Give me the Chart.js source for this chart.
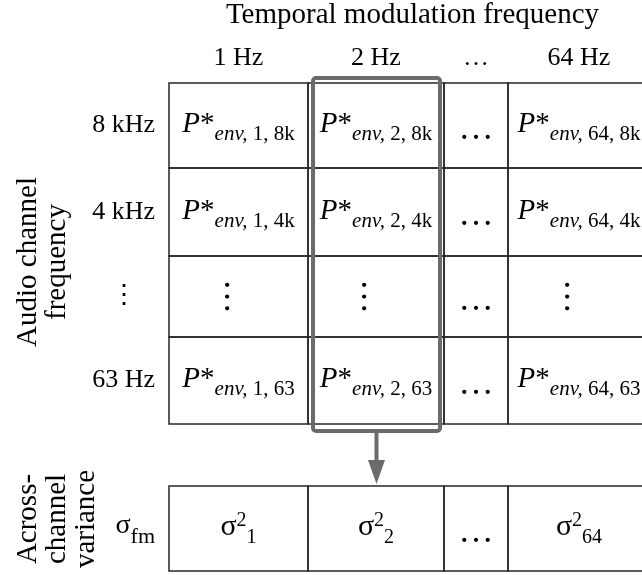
<!DOCTYPE html>
<html>
<head>
<meta charset="utf-8">
<script src="https://cdn.jsdelivr.net/npm/chart.js@4/dist/chart.umd.min.js"></script>
<style>
  html, body { margin: 0; padding: 0; background: #fff; }
  canvas { display: block; }
</style>
</head>
<body>
<canvas id="chart" width="642" height="575"></canvas>
<script>
// labels
const modFreqLabels = ['1 Hz', '2 Hz', '\u2026', '64 Hz'];
const modFreqIndex = ['1', '2', null, '64'];
const audioFreqLabels = ['8 kHz', '4 kHz', '\u22EE', '63 Hz'];
const audioFreqIndex = ['8k', '4k', null, '63'];
const highlightedCol = 1; // the 2 Hz column is boxed and summed up below

const xTitle = 'Temporal modulation frequency';
const yTitle = ['Audio channel', 'frequency'];
const varTitle = ['Across-', 'channel', 'variance'];

// layout, in pixel-like units on both scales
const colWidths = [139, 136, 64, 142];
const rowHeights = [85, 88, 81, 87];
const gapHeight = 62;
const varRowHeight = 85;
const xVisible = 473;

const SERIF = '"Liberation Serif", "Times New Roman", serif';
const LINE = '#262626';
const BOX = '#6b6b6b';

function colEdge(i) { return colWidths.slice(0, i).reduce((a, b) => a + b, 0); }
function rowEdge(i) { return rowHeights.slice(0, i).reduce((a, b) => a + b, 0); }
const gridBottom = rowEdge(rowHeights.length);
const varTop = gridBottom + gapHeight;
const varBottom = varTop + varRowHeight;

const gridCells = [];
audioFreqLabels.forEach((_, r) => {
    modFreqLabels.forEach((_, c) => {
        gridCells.push({ x: colEdge(c) + colWidths[c] / 2, y: rowEdge(r) + rowHeights[r] / 2, col: c, row: r });
    });
});
const varianceCells = modFreqLabels.map((_, c) => ({ x: colEdge(c) + colWidths[c] / 2, y: varTop + varRowHeight / 2, col: c }));

// draw a list of text runs centred on cx (or ending at cx)
function drawRuns(ctx, runs, cx, baseline, align) {
    let w = 0;
    runs.forEach(r => {
        ctx.font = r.font;
        r.w = ctx.measureText(r.text).width;
        w += r.w;
    });
    let x = align === 'right' ? cx - w : cx - w / 2;
    ctx.textAlign = 'left';
    ctx.textBaseline = 'alphabetic';
    runs.forEach(r => {
        ctx.font = r.font;
        ctx.fillText(r.text, x, baseline + (r.dy || 0));
        x += r.w;
    });
}

function hDots(ctx, cx, cy) {
    ctx.font = `35px ${SERIF}`;
    ctx.textAlign = 'center';
    ctx.textBaseline = 'alphabetic';
    ctx.fillText('\u2026', cx, cy + 13);
}

function vDots(ctx, cx, cy) {
    ctx.save();
    ctx.translate(cx - 12, cy);
    ctx.rotate(Math.PI / 2);
    ctx.font = `35px ${SERIF}`;
    ctx.textAlign = 'center';
    ctx.textBaseline = 'alphabetic';
    ctx.fillText('\u2026', 0, 2);
    ctx.restore();
}

function rotatedLines(ctx, lines, baseX, cy, gap) {
    ctx.font = `29px ${SERIF}`;
    ctx.textAlign = 'center';
    ctx.textBaseline = 'alphabetic';
    lines.forEach((line, i) => {
        ctx.save();
        ctx.translate(baseX + i * gap, cy);
        ctx.rotate(-Math.PI / 2);
        ctx.fillText(line, 0, 0);
        ctx.restore();
    });
}

const cellPlugin = {
    id: 'cellPlugin',
    afterDatasetsDraw(chart) {
        const { ctx, scales: { x, y } } = chart;
        ctx.save();
        ctx.fillStyle = '#000';
        ctx.strokeStyle = LINE;
        ctx.lineWidth = 1.5;

        chart.data.datasets.forEach((ds, di) => {
            const meta = chart.getDatasetMeta(di);
            meta.data.forEach((pt, i) => {
                const cell = ds.data[i];
                const left = x.getPixelForValue(colEdge(cell.col));
                const right = x.getPixelForValue(colEdge(cell.col + 1));
                const top = ds.kind === 'grid' ? y.getPixelForValue(rowEdge(cell.row)) : y.getPixelForValue(varTop);
                const bottom = ds.kind === 'grid' ? y.getPixelForValue(rowEdge(cell.row + 1)) : y.getPixelForValue(varBottom);
                ctx.strokeRect(left, top, right - left, bottom - top);

                const m = modFreqIndex[cell.col];
                if (m === null) { hDots(ctx, pt.x, pt.y); return; }
                if (ds.kind === 'grid') {
                    const a = audioFreqIndex[cell.row];
                    if (a === null) { vDots(ctx, pt.x, pt.y); return; }
                    drawRuns(ctx, [
                        { text: 'P', font: `italic 29px ${SERIF}` },
                        { text: '*', font: `29px ${SERIF}` },
                        { text: 'env,', font: `italic 21px ${SERIF}`, dy: 8 },
                        { text: ` ${m}, ${a}`, font: `21px ${SERIF}`, dy: 8 }
                    ], pt.x, pt.y + 6.5);
                } else {
                    drawRuns(ctx, [
                        { text: '\u03C3', font: `30px ${SERIF}` },
                        { text: '2', font: `20px ${SERIF}`, dy: -9 },
                        { text: m, font: `20px ${SERIF}`, dy: 8 }
                    ], pt.x, pt.y + 6.5);
                }
            });
        });

        // highlighted column and arrow down to its variance
        const bl = x.getPixelForValue(colEdge(highlightedCol)) + 5;
        const br = x.getPixelForValue(colEdge(highlightedCol + 1)) - 4;
        const bt = y.getPixelForValue(0) - 5;
        const bb = y.getPixelForValue(gridBottom) + 7;
        ctx.strokeStyle = BOX;
        ctx.fillStyle = BOX;
        ctx.lineWidth = 4;
        ctx.beginPath();
        ctx.roundRect(bl, bt, br - bl, bb - bt, 3);
        ctx.stroke();
        const ax = (bl + br) / 2;
        const vt = y.getPixelForValue(varTop);
        ctx.beginPath();
        ctx.moveTo(ax, bb);
        ctx.lineTo(ax, vt - 24);
        ctx.stroke();
        ctx.beginPath();
        ctx.moveTo(ax - 8.5, vt - 26);
        ctx.lineTo(ax + 8.5, vt - 26);
        ctx.lineTo(ax, vt - 2);
        ctx.closePath();
        ctx.fill();

        // titles
        ctx.fillStyle = '#000';
        ctx.font = `29px ${SERIF}`;
        ctx.textAlign = 'center';
        ctx.textBaseline = 'alphabetic';
        ctx.fillText(xTitle, (x.getPixelForValue(0) + x.getPixelForValue(colEdge(colWidths.length))) / 2 + 3, 23);
        rotatedLines(ctx, yTitle, 36, y.getPixelForValue(gridBottom / 2) + 8.5, 29);
        rotatedLines(ctx, varTitle, 36, y.getPixelForValue(varTop + varRowHeight / 2) - 9.5, 29);

        // row label of the variance row
        drawRuns(ctx, [
            { text: '\u03C3', font: `28px ${SERIF}` },
            { text: 'fm', font: `22px ${SERIF}`, dy: 10 }
        ], y.left + 155, y.getPixelForValue(varTop + varRowHeight / 2) + 4, 'right');
        ctx.restore();
    }
};

function zeroPadding(s) {
    s.paddingTop = s.paddingBottom = s.paddingLeft = s.paddingRight = 0;
}

new Chart(document.getElementById('chart'), {
    type: 'scatter',
    data: {
        datasets: [
            { label: 'P*env', kind: 'grid', data: gridCells, pointRadius: 0, pointHoverRadius: 0 },
            { label: 'variance', kind: 'variance', data: varianceCells, pointRadius: 0, pointHoverRadius: 0 }
        ]
    },
    options: {
        responsive: false,
        animation: false,
        events: [],
        layout: { autoPadding: false, padding: { left: 0, top: 0, right: 0, bottom: 4 } },
        plugins: { legend: { display: false }, tooltip: { enabled: false } },
        scales: {
            x: {
                type: 'linear',
                position: 'top',
                min: 0,
                max: xVisible,
                grid: { display: false, drawTicks: false },
                border: { display: false },
                afterBuildTicks: s => { s.ticks = modFreqLabels.map((_, c) => ({ value: colEdge(c) + colWidths[c] / 2 })); },
                afterFit: s => { s.height = 83; zeroPadding(s); },
                ticks: {
                    autoSkip: false, maxRotation: 0, minRotation: 0, padding: 12, color: '#000',
                    font: { family: SERIF, size: 26, lineHeight: 1 },
                    callback: (v, i) => modFreqLabels[i]
                }
            },
            y: {
                type: 'linear',
                position: 'left',
                reverse: true,
                min: 0,
                max: varBottom,
                grid: { display: false, drawTicks: false },
                border: { display: false },
                afterBuildTicks: s => { s.ticks = audioFreqLabels.map((_, r) => ({ value: rowEdge(r) + rowHeights[r] / 2 })); },
                afterFit: s => { s.width = 169; zeroPadding(s); },
                ticks: {
                    autoSkip: false, crossAlign: 'center', padding: 14, color: '#000',
                    font: { family: SERIF, size: 26, lineHeight: 1 },
                    callback: (v, i) => audioFreqLabels[i]
                }
            }
        }
    },
    plugins: [cellPlugin]
});
</script>
</body>
</html>
